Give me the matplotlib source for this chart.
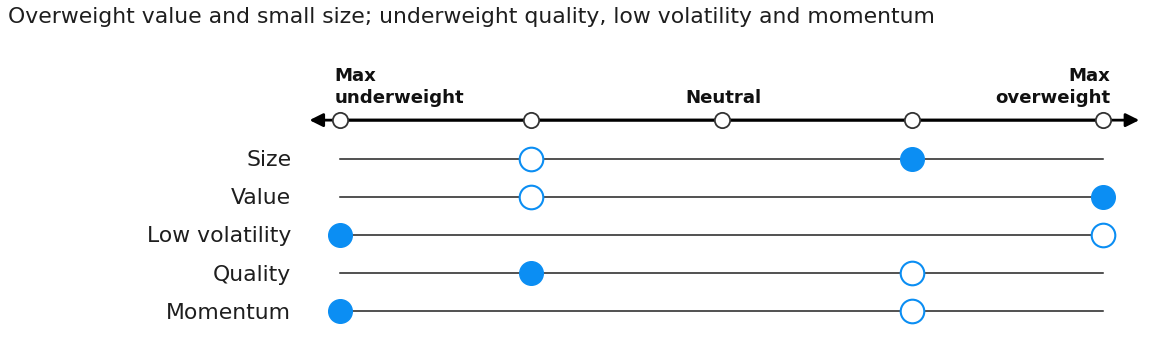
import matplotlib.pyplot as plt

plt.rcParams['font.family'] = ['DejaVu Sans']

title = "Overweight value and small size; underweight quality, low volatility and momentum"
factors = ["Size", "Value", "Low volatility", "Quality", "Momentum"]
current = [3, 4, 0, 1, 0]
previous = [1, 1, 4, 3, 3]
levels = [0, 1, 2, 3, 4]
scale_labels = ["Max\nunderweight", "Neutral", "Max\noverweight"]

BLUE = "#0b8ef3"
TEXT = "#1e1e1e"
W, H = 1159, 349
fig = plt.figure(figsize=(W / 100, H / 100), dpi=100)
ax = fig.add_axes([0, 0, 1, 1])
unit_x = 190.75
x0_px = 340
unit_y = 38.1
y0_px = 159
ax.set_xlim(-x0_px / unit_x, (W - x0_px) / unit_x)
ax.set_ylim((H - y0_px) / unit_y, -y0_px / unit_y)
ax.axis("off")
renderer = fig.canvas.get_renderer()


def fit_width(texts, ref, target_px):
    """Scale the font of all `texts` so that `ref` is target_px wide."""
    w = ref.get_window_extent(renderer).width
    size = ref.get_fontsize() * target_px / w
    for t in texts:
        t.set_fontsize(size)


axis_y = -1.02
# scale axis with arrowheads at both ends
ax.annotate("", xy=(-0.16, axis_y), xytext=(4.0, axis_y),
            arrowprops=dict(arrowstyle="-|>", color="black", lw=2,
                            mutation_scale=20, shrinkA=0, shrinkB=0))
ax.annotate("", xy=(4.19, axis_y), xytext=(0.0, axis_y),
            arrowprops=dict(arrowstyle="-|>", color="black", lw=2,
                            mutation_scale=20, shrinkA=0, shrinkB=0))
ax.plot(levels, [axis_y] * len(levels), "o", ms=11, mfc="white",
        mec="#333333", mew=1.3, zorder=5)

hdr_kw = dict(va="baseline", fontsize=13, fontweight="bold", color="#111111",
              linespacing=1.25)
h_left = ax.text(-0.03, -1.47, scale_labels[0], ha="left", **hdr_kw)
h_mid = ax.text(2.01, -1.47, scale_labels[1], ha="center", **hdr_kw)
h_right = ax.text(4.04, -1.47, scale_labels[2], ha="right",
                  multialignment="right", **hdr_kw)
fit_width([h_left, h_mid, h_right], h_mid, 76)

row_labels = []
for i, name in enumerate(factors):
    ax.plot([levels[0], levels[-1]], [i, i], color="#222222", lw=1.1, zorder=1)
    row_labels.append(ax.text(-0.255, i - 0.02, name, ha="right",
                              va="center_baseline", fontsize=14.5, color=TEXT))
    ax.plot(previous[i], i, "o", ms=17, mfc="white", mec=BLUE, mew=1.5,
            zorder=4)
    ax.plot(current[i], i, "o", ms=17, mfc=BLUE, mec=BLUE, mew=1, zorder=4)
fit_width(row_labels, row_labels[2], 144)

t = fig.text(8 / W, 1 - 17 / H, title, ha="left", va="center", fontsize=14.5,
             color=TEXT)
fit_width([t], t, 924)

fig.savefig("out.png", dpi=100)
